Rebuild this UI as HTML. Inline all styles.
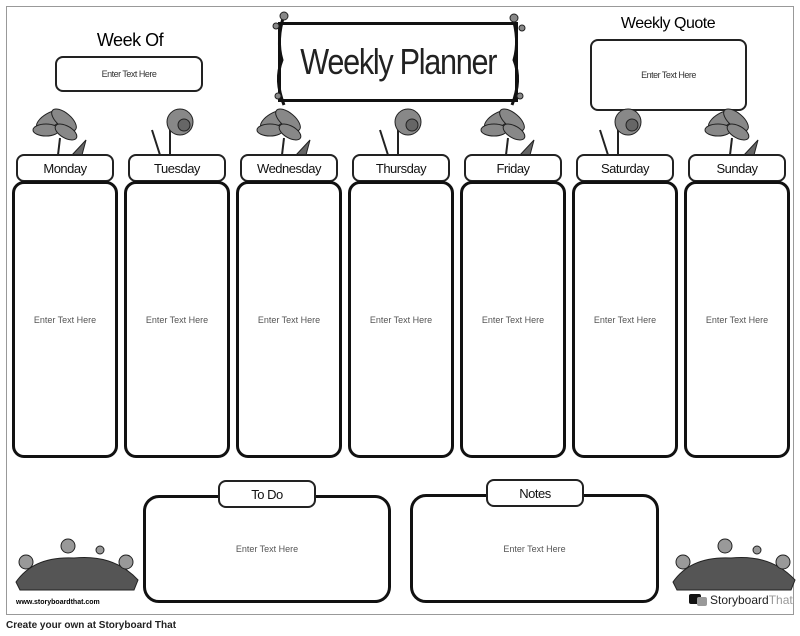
<!DOCTYPE html>
<html><head><style>
body{margin:0;width:800px;height:636px;background:#fff;position:relative;font-family:"Liberation Sans",sans-serif;overflow:hidden}
.a{position:absolute;box-sizing:border-box}
.hd{border:2px solid #222;border-radius:8px;background:#fff;display:flex;align-items:center;justify-content:center;font-size:13px;color:#111;letter-spacing:-0.5px}
.bd{border:3px solid #111;border-radius:12px;background:#fff;display:flex;align-items:center;justify-content:center;font-size:9px;color:#555}
.t{font-size:9px;color:#333}
</style></head><body>
<div class="a" style="left:6px;top:6px;width:788px;height:609px;border:1px solid #999"></div>
<div class="a" style="top:620px;font-size:10px;font-weight:bold;color:#222;left:6px">Create your own at Storyboard That</div>

<div class="a" style="left:55px;top:30px;width:150px;text-align:center;font-size:18px;letter-spacing:-0.5px">Week Of</div>
<div class="a hd t" style="left:55px;top:56px;width:148px;height:36px;font-size:9px">Enter Text Here</div>
<div class="a" style="left:590px;top:15px;width:156px;text-align:center;font-size:16px;letter-spacing:-0.5px">Weekly Quote</div>
<div class="a hd t" style="left:590px;top:39px;width:157px;height:72px;font-size:9px">Enter Text Here</div>

<div class="a" style="left:278px;top:22px;width:240px;height:80px;border:3px solid #111;display:flex;align-items:center;justify-content:center;font-size:36px;color:#222;white-space:nowrap;letter-spacing:-1.5px"><span style="display:inline-block;transform:scaleX(0.85)">Weekly Planner</span></div>
<svg class="a" style="left:266px;top:10px" width="264" height="100"><g stroke="#111" stroke-width="3" fill="none"><path d="M18 5 Q10 30 16 50 Q8 70 18 95"/><path d="M246 5 Q254 30 248 50 Q256 70 246 95"/></g><g fill="#888" stroke="#222"><circle cx="18" cy="6" r="4"/><circle cx="10" cy="16" r="3"/><circle cx="12" cy="86" r="3"/><circle cx="248" cy="8" r="4"/><circle cx="256" cy="18" r="3"/><circle cx="254" cy="86" r="3"/></g></svg>

<svg class="a" style="left:0;top:100px" width="800" height="60">
<g fill="#888" stroke="#222" stroke-width="1">
<g id="l"><path d="M58 55 L60 38" stroke="#222" stroke-width="2"/><ellipse cx="50" cy="20" rx="15" ry="7" transform="rotate(-30 50 20)"/><ellipse cx="64" cy="20" rx="15" ry="7" transform="rotate(40 64 20)"/><ellipse cx="46" cy="30" rx="13" ry="6"/><ellipse cx="66" cy="32" rx="12" ry="6" transform="rotate(30 66 32)"/><path d="M72 55 L86 40 L82 55Z" fill="#666"/></g>
<g id="d"><path d="M170 55 L170 28 M160 55 L152 30" stroke="#222" stroke-width="2"/><circle cx="180" cy="22" r="13"/><circle cx="184" cy="25" r="6" fill="#666"/></g>
<use href="#l" x="224"/><use href="#d" x="228"/><use href="#l" x="448"/><use href="#d" x="448"/><use href="#l" x="672"/>
</g></svg>

<div class="a hd" style="left:16px;top:154px;width:98px;height:28px">Monday</div>
<div class="a hd" style="left:128px;top:154px;width:98px;height:28px">Tuesday</div>
<div class="a hd" style="left:240px;top:154px;width:98px;height:28px">Wednesday</div>
<div class="a hd" style="left:352px;top:154px;width:98px;height:28px">Thursday</div>
<div class="a hd" style="left:464px;top:154px;width:98px;height:28px">Friday</div>
<div class="a hd" style="left:576px;top:154px;width:98px;height:28px">Saturday</div>
<div class="a hd" style="left:688px;top:154px;width:98px;height:28px">Sunday</div>

<div class="a bd" style="left:12px;top:181px;width:106px;height:277px">Enter Text Here</div>
<div class="a bd" style="left:124px;top:181px;width:106px;height:277px">Enter Text Here</div>
<div class="a bd" style="left:236px;top:181px;width:106px;height:277px">Enter Text Here</div>
<div class="a bd" style="left:348px;top:181px;width:106px;height:277px">Enter Text Here</div>
<div class="a bd" style="left:460px;top:181px;width:106px;height:277px">Enter Text Here</div>
<div class="a bd" style="left:572px;top:181px;width:106px;height:277px">Enter Text Here</div>
<div class="a bd" style="left:684px;top:181px;width:106px;height:277px">Enter Text Here</div>

<div class="a bd" style="left:143px;top:495px;width:248px;height:108px;border-radius:16px">Enter Text Here</div>
<div class="a hd" style="left:218px;top:480px;width:98px;height:28px">To Do</div>
<div class="a bd" style="left:410px;top:494px;width:249px;height:109px;border-radius:16px">Enter Text Here</div>
<div class="a hd" style="left:486px;top:479px;width:98px;height:28px">Notes</div>

<svg class="a" style="left:14px;top:536px" width="126" height="56"><path d="M2 46 Q20 20 60 22 Q100 18 124 44 L120 54 L6 54Z" fill="#555" stroke="#222"/><g fill="#999" stroke="#222"><circle cx="12" cy="26" r="7"/><circle cx="54" cy="10" r="7"/><circle cx="112" cy="26" r="7"/><circle cx="86" cy="14" r="4"/></g></svg>
<svg class="a" style="left:671px;top:536px" width="126" height="56"><path d="M2 46 Q20 20 60 22 Q100 18 124 44 L120 54 L6 54Z" fill="#555" stroke="#222"/><g fill="#999" stroke="#222"><circle cx="12" cy="26" r="7"/><circle cx="54" cy="10" r="7"/><circle cx="112" cy="26" r="7"/><circle cx="86" cy="14" r="4"/></g></svg>
<div class="a" style="left:16px;top:599px;font-size:7px;font-weight:bold">www.storyboardthat.com</div>
<div class="a" style="left:689px;top:594px;width:12px;height:10px;background:#111;border-radius:2px"></div>
<div class="a" style="left:697px;top:597px;width:10px;height:9px;background:#999;border-radius:2px"></div>
<div class="a" style="left:710px;top:593px;font-size:12px;color:#222">Storyboard<span style="color:#999">That</span></div>
</body></html>
